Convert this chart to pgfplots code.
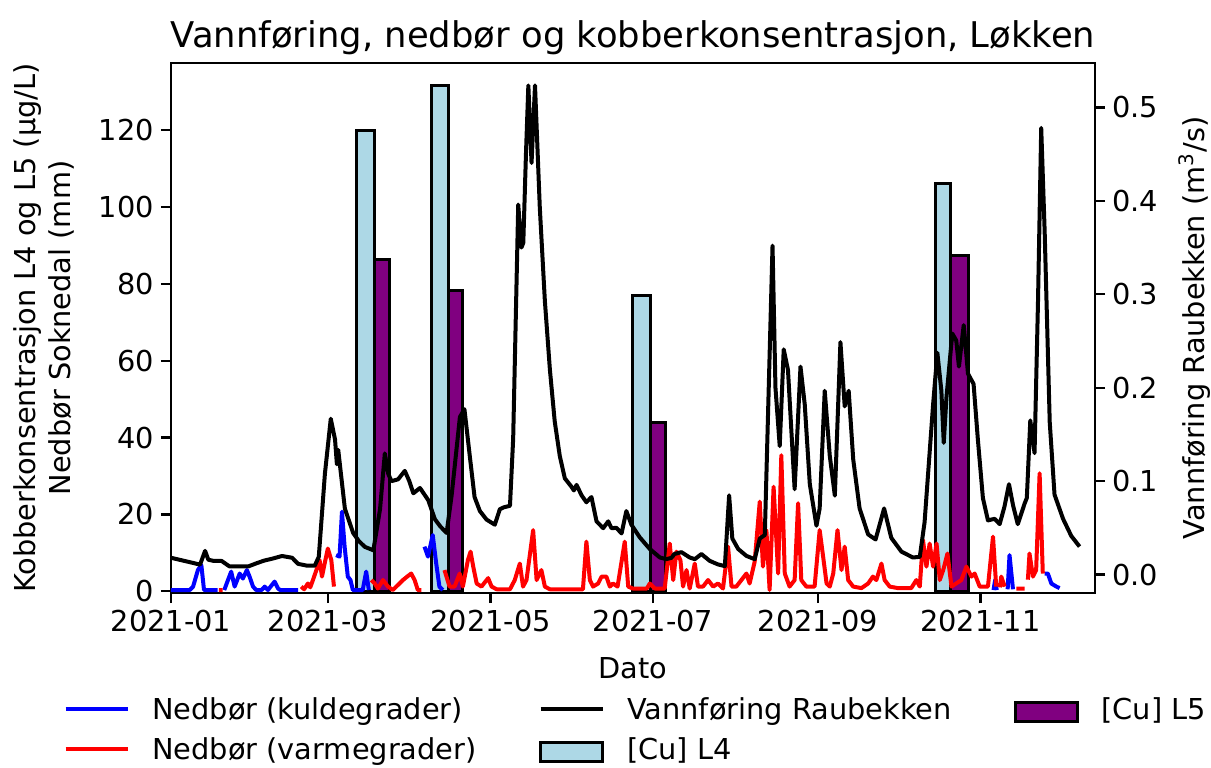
\documentclass[border=0pt]{standalone}
\usepackage{fontspec}
\setmainfont{DejaVu Sans}
\usepackage{pgfplots}
\pgfplotsset{compat=1.18}
\definecolor{l4}{RGB}{173,216,230}
\definecolor{l5}{RGB}{128,0,128}
\pgfplotsset{
  common/.style={
    at={(85.5pt,87pt)}, anchor=south west,
    scale only axis, width=462pt, height=265pt,
    xmin=0, xmax=347,
    tick align=outside, major tick length=5pt,
    every tick/.style={black, line width=1.2pt},
    axis line style={line width=1.3pt},
    /pgf/number format/assume math mode=true,
    unbounded coords=jump,
  },
  linelegend/.style={legend image code/.code={\draw[##1] (0pt,1.35pt) -- (31pt,1.35pt);}},
  barlegend/.style={legend image code/.code={\draw[##1] (0pt,-4.8pt) rectangle (31pt,4.8pt);}},
}
\begin{document}
\begin{tikzpicture}[font=\fontsize{14.4}{17.5}\selectfont]
\useasboundingbox (0,0) rectangle (605.5pt,383.5pt);
\begin{axis}[
  common,
  ymin=-0.47, ymax=137.5,
  tick pos=left,
  xtick={0,59,120,181,243,304},
  xticklabels={2021-01,2021-03,2021-05,2021-07,2021-09,2021-11},
  ytick={0,20,40,60,80,100,120},
  title={Vannføring, nedbør og kobberkonsentrasjon, Løkken},
  title style={at={(axis description cs:0.5,1.0075)}, anchor=base, inner sep=0pt, font=\fontsize{17.7}{20}\selectfont},
  xlabel={Dato},
  xlabel style={at={(axis description cs:0.5,-0.1604)}, anchor=base, inner sep=0pt},
  ylabel={Kobberkonsentrasjon L4 og L5 (µg/L)\\Nedbør Soknedal (mm)},
  ylabel style={at={(axis description cs:-0.1041,0.5)}, anchor=south, align=center, inner sep=0pt},
]
% [Cu] L4 bars
\addplot[ybar, bar width=7.1, bar shift=0pt, fill=l4, draw=black, line width=1.5pt] coordinates {(73.05,120.0)};
\addplot[ybar, bar width=6.2, bar shift=0pt, fill=l4, draw=black, line width=1.5pt] coordinates {(101.0,131.6)};
\addplot[ybar, bar width=6.9, bar shift=0pt, fill=l4, draw=black, line width=1.5pt] coordinates {(176.75,76.9)};
\addplot[ybar, bar width=5.6, bar shift=0pt, fill=l4, draw=black, line width=1.5pt] coordinates {(289.8,106.2)};
% [Cu] L5 bars
\addplot[ybar, bar width=5.6, bar shift=0pt, fill=l5, draw=black, line width=1.5pt] coordinates {(79.4,86.3)};
\addplot[ybar, bar width=5.4, bar shift=0pt, fill=l5, draw=black, line width=1.5pt] coordinates {(106.8,78.4)};
\addplot[ybar, bar width=5.5, bar shift=0pt, fill=l5, draw=black, line width=1.5pt] coordinates {(182.95,44.0)};
\addplot[ybar, bar width=6.9, bar shift=0pt, fill=l5, draw=black, line width=1.5pt] coordinates {(296.05,87.5)};
% Nedbør (kuldegrader)
\addplot[blue, line width=2pt, line join=round] coordinates {
(0,0.3) (7,0.3) (8.3,1.2) (10.1,5.5) (11.4,6.8) (12.4,0.3) (17.5,0.3) (17.9,nan)
(20,0.3) (21.4,2.9) (22.6,5.1) (23.9,1.2) (25.8,4.6) (27,3.3) (28.5,5.5) (29.5,3.8) (30.8,1.2) (32,0.3) (34,0.3) (35.2,1.2) (36.4,0.3) (38.9,2.5) (40.2,0.7) (41,0.3) (47.7,0.3) (48,nan)
(62,9.4) (63.3,9) (64.2,20.7) (65.2,11.6) (66.4,3.8) (67.4,2.9) (68.3,0.3) (72,0.3) (73.3,5.1) (74.3,0.3) (74.8,nan)
(95.2,11.6) (96.5,9) (98.3,14.6) (99.6,7.2) (100.8,1.2) (102.1,0.3) (102.4,nan)
(308.9,0.3) (309.5,2.9) (310.1,0.3) (310.5,nan)
(314.2,0.5) (314.9,9.4) (316.2,0.5) (316.5,nan)
(328.1,4.6) (329.3,4.6) (330.6,2) (332.5,1.2) (333.7,0.8)
};
% Nedbør (varmegrader)
\addplot[red, line width=2pt, line join=round] coordinates {
(18,0.3) (19.4,0.3) (19.7,nan)
(48.9,1.2) (50,0.5) (51.4,2) (52.3,1) (53.3,2.9) (54.6,5.5) (55.8,8.1) (56.7,3.8) (57.7,7.2) (58.9,11.1) (60.2,8.1) (61.2,1.2) (61.6,nan)
(75.2,2.9) (76.5,2) (77.7,0.7) (79.6,2.9) (81.5,1.2) (83.3,0.3) (85.2,1.6) (87.1,2.9) (88.7,3.8) (90.2,4.6) (91.5,2.9) (92.7,0.3) (94,0.3) (94.5,nan)
(102.7,5.5) (104.6,1.2) (106.5,1.2) (108.4,4.6) (109.6,1.2) (111.5,8.1) (112.5,10.3) (113.5,6.4) (114.8,2) (116.6,1.2) (119.1,3.4) (120.4,1.2) (122.3,0.5) (127.3,0.5) (129.1,2.9) (131,7.2) (132.2,1.2) (133.5,2.9) (136,15.9) (137.3,2.9) (139.1,5.5) (140.4,1.2) (142.3,0.5) (154.7,0.5) (156,12.9) (157.3,2.9) (158.5,1.2) (160.4,2) (161.7,3.8) (163.5,3.8) (164.8,1.2) (166,2) (167.7,1.2) (168.9,6.4) (170.4,12.9) (171.7,1.2) (173.4,0.7) (178.7,0.7) (179.8,2) (181.7,0.7) (185.4,0.7) (187.3,12.4) (188.6,2.9) (189.8,10.3) (191.3,8.1) (192.3,1.2) (193.6,5.5) (194.8,0.7) (196.7,7.2) (197.9,1.2) (199.8,1.2) (201.7,2.9) (203.6,1.2) (205.4,2) (207.3,0.7) (209.2,11.6) (210.5,1.2) (212.3,1.2) (214.2,2.9) (216.1,4.6) (217.3,2) (219.2,7.7) (221.1,23.3) (222.3,6.4) (223.6,15.9) (224.8,0.3) (226.3,27.2) (228,4.6) (229.2,35.4) (230.5,4.6) (232.3,1.2) (234.2,2.9) (235.5,22.9) (236.7,2.9) (238.6,1.2) (241.7,1.2) (243.6,15.9) (244.9,9) (246.2,2) (247.4,1.2) (248.7,4.6) (250.3,15.9) (251.8,5.5) (253,11.6) (254.3,2.9) (256.2,1.2) (259.3,0.8) (261.8,2) (263.6,3.8) (264.9,2.9) (266.8,7.2) (268,2.9) (269.9,1.2) (273,0.8) (278,0.8) (279.9,2.9) (281.2,1.2) (282.4,13.3) (283.7,6.4) (284.9,12.4) (286.2,6.4) (287.5,12.4) (288.7,2.9) (290,5.5) (291.6,9.8) (293.1,1.2) (296.8,2.9) (298.7,6.4) (300.6,3.8) (301.8,4.6) (303.7,1.2) (306.8,1.2) (308.7,14.2) (309.9,1.2) (310.3,nan)
(311.3,1) (311.8,3.8) (313.1,1.2) (313.5,nan)
(317.5,0.7) (320.6,0.7) (321,nan)
(321.8,3) (322.4,9.8) (323.7,3.8) (324.9,5.5) (326.2,30.7) (327.4,4.6) (327.8,nan)
};
\end{axis}
\begin{axis}[
  common,
  ymin=-0.0197, ymax=0.5475,
  axis x line=none, axis y line*=right,
  ytick={0,0.1,0.2,0.3,0.4,0.5},
  scaled y ticks=false,
  yticklabel style={/pgf/number format/.cd, fixed, fixed zerofill, precision=1},
  ylabel={Vannføring Raubekken (m\textsuperscript{3}/s)},
  ylabel style={at={(axis description cs:1.0905,0.5)}, anchor=north, inner sep=0pt},
  legend columns=3,
  legend cell align=left,
  legend style={at={(axis description cs:-0.1163,-0.1981)}, anchor=north west,
    draw=none, fill=none, inner sep=0pt, outer sep=0pt,
    font=\fontsize{14.4}{17.5}\selectfont, row sep=5.9pt,
    nodes={inner sep=0pt, text height=11pt, text depth=3pt},
    /tikz/every odd column/.append style={column sep=11.35pt},
    /tikz/every even column/.append style={column sep=31pt}},
]
\addlegendimage{blue, line width=2pt, linelegend}
\addlegendentry{Nedbør (kuldegrader)}
\addplot[black, line width=2pt, line join=round, linelegend] coordinates {
(0,0.018) (3,0.016) (6,0.014) (9,0.012) (10.9,0.0106) (12.8,0.0254) (14,0.016) (16,0.0146) (19,0.0146) (22,0.0087) (25,0.0087) (29,0.0087) (32,0.012) (35,0.015) (38,0.017) (41.7,0.0199) (43.5,0.019) (45.5,0.018) (47.7,0.0115) (51,0.0096) (54,0.0096) (55.5,0.019) (57.8,0.108) (60,0.1668) (61.6,0.1446) (62.3,0.118) (62.8,0.1335) (65.3,0.0705) (68.4,0.0446) (70.5,0.036) (72.8,0.0297) (76,0.026) (78.5,0.070) (80.3,0.1297) (81.6,0.1077) (82.8,0.100) (85.3,0.102) (87.8,0.111) (89.5,0.1) (91,0.087) (93.5,0.0927) (96.6,0.0797) (99.1,0.0593) (101,0.052) (103.5,0.0445) (105.4,0.085) (108.5,0.1687) (110.2,0.177) (112.2,0.127) (114,0.083) (116,0.068) (118.5,0.0589) (121.6,0.0534) (123.5,0.070) (125,0.072) (127.3,0.0736) (128.5,0.1456) (130.4,0.396) (131.6,0.350) (132.3,0.355) (133.3,0.45) (134.2,0.5235) (135.4,0.4405) (136.7,0.5235) (138.5,0.3927) (140.4,0.293) (142.3,0.219) (144.1,0.164) (146,0.127) (147.9,0.103) (150.4,0.094) (151.3,0.090) (152.3,0.096) (154.2,0.0848) (156,0.0774) (157.9,0.083) (159.8,0.057) (162.3,0.0497) (164.2,0.057) (165.4,0.0497) (167.3,0.050) (169.2,0.044) (171,0.068) (172.9,0.0534) (176,0.040) (179.8,0.0274) (183.6,0.0183) (186,0.0165) (188,0.018) (189,0.022) (191.7,0.024) (194.8,0.0183) (196.7,0.0165) (199.2,0.022) (202.3,0.0147) (205.4,0.0109) (208,0.0091) (209.6,0.0848) (210.8,0.0386) (213,0.0274) (216.1,0.020) (219.2,0.0165) (221.1,0.0386) (223,0.0424) (225.9,0.352) (227,0.2) (228.6,0.1375) (230.1,0.241) (231.7,0.219) (234.2,0.0913) (236.4,0.2226) (238,0.182) (239.9,0.0967) (242.4,0.0523) (243.6,0.0708) (245.5,0.1967) (247.4,0.127) (249.3,0.0845) (251.4,0.2488) (253,0.180) (254.5,0.1967) (256.2,0.1233) (258.6,0.0708) (261.8,0.043) (264.6,0.0376) (267.8,0.0708) (270.5,0.0393) (274.3,0.0246) (278.6,0.0183) (281.2,0.019) (283,0.056) (286.2,0.182) (287.8,0.2374) (289.3,0.197) (290.2,0.141) (291.2,0.189) (293.4,0.258) (294.9,0.2505) (295.9,0.2226) (297.7,0.267) (299.3,0.215) (301.4,0.204) (303,0.145) (304.9,0.082) (306.8,0.058) (309.3,0.0597) (311.2,0.054) (313,0.0727) (314.7,0.0967) (316.2,0.0745) (318,0.054) (320.6,0.0763) (321.4,0.082) (322.7,0.165) (324.3,0.130) (325.6,0.293) (326.8,0.478) (328.1,0.367) (330,0.163) (331.8,0.0856) (335,0.0597) (338.1,0.0413) (341.2,0.030)
};
\addlegendentry{Vannføring Raubekken}
\addlegendimage{fill=l5, draw=black, line width=1.5pt, barlegend}
\addlegendentry{[Cu] L5}
\addlegendimage{red, line width=2pt, linelegend}
\addlegendentry{Nedbør (varmegrader)}
\addlegendimage{fill=l4, draw=black, line width=1.5pt, barlegend}
\addlegendentry{[Cu] L4}
\end{axis}
\end{tikzpicture}
\end{document}
